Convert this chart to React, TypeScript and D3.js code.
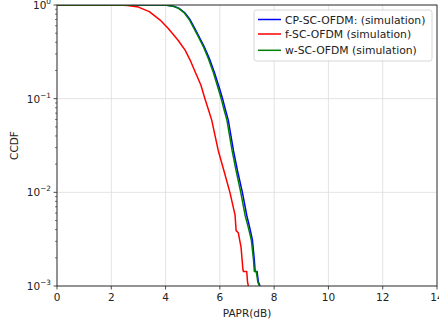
import React from "react";
import * as d3 from "d3";

const W = 439;
const H = 324;

const xTicks = [0, 2, 4, 6, 8, 10, 12, 14];
const yDecades = [-3, -2, -1, 0];

// CP-SC-OFDM (simulation): [PAPR dB, CCDF]
const cpSeries: [number, number][] = [
  [0, 1], [3.9, 1], [4.05, 0.995], [4.3, 0.97], [4.5, 0.92], [4.7, 0.83], [4.9, 0.7],
  [5.08, 0.56], [5.25, 0.45], [5.42, 0.36], [5.61, 0.27], [5.8, 0.19], [6.0, 0.125],
  [6.1, 0.1], [6.2, 0.077], [6.31, 0.059], [6.5, 0.028], [6.65, 0.017], [6.83, 0.01],
  [6.99, 0.0057], [7.1, 0.0042], [7.2, 0.0031], [7.27, 0.0019], [7.3, 0.00143],
  [7.37, 0.00143], [7.42, 0.0011], [7.48, 0.001],
];

// f-SC-OFDM (simulation)
const fSeries: [number, number][] = [
  [0, 1], [2.3, 1], [2.6, 0.99], [3.0, 0.95], [3.4, 0.85], [3.8, 0.69], [4.1, 0.56],
  [4.46, 0.42], [4.72, 0.33], [4.9, 0.26], [5.1, 0.19], [5.3, 0.14], [5.45, 0.1],
  [5.58, 0.076], [5.7, 0.059], [5.94, 0.028], [6.15, 0.017], [6.37, 0.01], [6.56, 0.0057],
  [6.6, 0.0039], [6.68, 0.0037], [6.78, 0.0026], [6.85, 0.0015], [6.87, 0.00143],
  [6.99, 0.00143], [7.02, 0.0011], [7.05, 0.001],
];

// w-SC-OFDM (simulation)
const wSeries: [number, number][] = [
  [0, 1], [3.88, 1], [4.03, 0.995], [4.28, 0.97], [4.48, 0.92], [4.68, 0.83], [4.87, 0.7],
  [5.05, 0.56], [5.22, 0.45], [5.39, 0.36], [5.57, 0.27], [5.76, 0.19], [5.95, 0.125],
  [6.05, 0.1], [6.15, 0.077], [6.26, 0.059], [6.45, 0.028], [6.6, 0.017], [6.77, 0.01],
  [6.93, 0.0057], [7.05, 0.0042], [7.16, 0.0031], [7.24, 0.0019], [7.27, 0.00143],
  [7.34, 0.00143], [7.4, 0.0011], [7.46, 0.001],
];

const seriesNames = ["CP-SC-OFDM: (simulation)", "f-SC-OFDM (simulation)", "w-SC-OFDM (simulation)"];
const seriesColors = ["#0000ff", "#ff0000", "#008000"];

const L = 57, R = 437, T = 5, B = 286;

export default function App() {
  const x = d3.scaleLinear().domain([0, 14]).range([L, R]);
  const y = d3.scaleLog().domain([1e-3, 1]).range([B, T]);
  const line = d3.line<[number, number]>().x(d => x(d[0])).y(d => y(d[1]));
  const all = [cpSeries, fSeries, wSeries];
  const minor: number[] = [];
  for (const e of [-3, -2, -1]) for (let k = 2; k <= 9; k++) minor.push(k * Math.pow(10, e));
  const font = "DejaVu Sans, sans-serif";
  const fs = 10.5;
  const lfs = 10.8;
  const legX = 254, legY = 10, legW = 178, legH = 51;
  const rows = [9.5, 24, 40.3];
  return (
    <svg width={W} height={H} style={{ position: "absolute", left: 0, top: 0, background: "#fff" }}
      fontFamily={font}>
      <defs>
        <clipPath id="plotclip"><rect x={L} y={T} width={R - L} height={B - T} /></clipPath>
      </defs>
      <rect x={0} y={0} width={W} height={H} fill="#fff" />
      {xTicks.map(t => (
        <line key={"gx" + t} x1={x(t)} x2={x(t)} y1={T} y2={B} stroke="#dcdcdc" strokeWidth={0.8} />
      ))}
      {yDecades.map(e => (
        <line key={"gy" + e} x1={L} x2={R} y1={y(Math.pow(10, e))} y2={y(Math.pow(10, e))} stroke="#dcdcdc" strokeWidth={0.8} />
      ))}
      <g clipPath="url(#plotclip)">
        {all.map((s, i) => (
          <path key={i} d={line(s) || ""} fill="none" stroke={seriesColors[i]} strokeWidth={1.5} strokeLinejoin="round" />
        ))}
      </g>
      <rect x={L} y={T} width={R - L} height={B - T} fill="none" stroke="#222" strokeWidth={0.9} />
      {xTicks.map(t => (
        <g key={"xt" + t}>
          <line x1={x(t)} x2={x(t)} y1={B} y2={B + 3.5} stroke="#222" strokeWidth={0.8} />
          <text x={x(t)} y={B + 15} textAnchor="middle" fontSize={fs} fill="#222">{t}</text>
        </g>
      ))}
      {yDecades.map(e => (
        <g key={"yt" + e}>
          <line x1={L - 3.5} x2={L} y1={y(Math.pow(10, e))} y2={y(Math.pow(10, e))} stroke="#222" strokeWidth={0.8} />
          <text x={L - 6} y={y(Math.pow(10, e)) + 4} textAnchor="end" fontSize={fs} fill="#222">
            10<tspan fontSize={7.3} dy={-5}>{e < 0 ? "\u2212" + Math.abs(e) : String(e)}</tspan>
          </text>
        </g>
      ))}
      {minor.map((v, i) => (
        <line key={"mn" + i} x1={L - 2} x2={L} y1={y(v)} y2={y(v)} stroke="#222" strokeWidth={0.6} />
      ))}
      <text x={(L + R) / 2} y={B + 31} textAnchor="middle" fontSize={fs} fill="#222">PAPR(dB)</text>
      <text transform={`translate(18,${(T + B) / 2}) rotate(-90)`} textAnchor="middle" fontSize={fs} fill="#222">CCDF</text>
      <rect x={legX} y={legY} width={legW} height={legH} rx={2.5} fill="#fff" fillOpacity={0.8} stroke="#cccccc" strokeWidth={0.8} />
      {seriesNames.map((n, i) => (
        <g key={"lg" + i}>
          <line x1={legX + 4} x2={legX + 27} y1={legY + rows[i]} y2={legY + rows[i]} stroke={seriesColors[i]} strokeWidth={1.5} />
          <text x={legX + 31} y={legY + rows[i] + 4} fontSize={lfs} fill="#222">{n}</text>
        </g>
      ))}
    </svg>
  );
}
